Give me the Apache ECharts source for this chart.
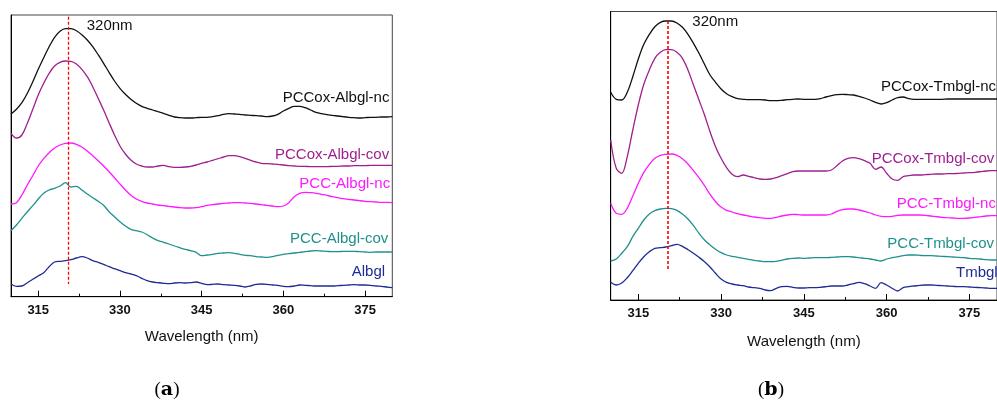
<!DOCTYPE html>
<html>
<head>
<meta charset="utf-8">
<script src="https://cdn.jsdelivr.net/npm/echarts@6/dist/echarts.min.js"></script>
<style>
html,body{margin:0;padding:0;background:#fff;}
#c{width:997px;height:401px;}
</style>
</head>
<body>
<div id="c"></div>
<script>
// wavelength (nm)
const wavelengths = [310,311,312,313,314,315,316,317,318,319,320,321,322,323,324,325,326,327,328,329,330,331,332,333,334,335,336,337,338,339,340,341,342,343,344,345,346,347,348,349,350,351,352,353,354,355,356,357,358,359,360,361,362,363,364,365,366,367,368,369,370,371,372,373,374,375,376,377,378,379,380];
const tickLabels = [315,330,345,360,375];
const minorTicks = [322.5,337.5,352.5,367.5];
const peakLine = [320.5, 320.3];

// Panel (a) — offset spectra, arbitrary units
const albPCCoxNc = [182.7,187.4,194,203.4,215,227.4,239,250,259.4,265.4,268,
 268,266,262,256.7,250,242,233.4,224.4,215.7,208.4,
 202.4,197.4,193.4,190.4,188.4,186.7,185,183.4,181.4,179.7,
 179,178.7,178.7,179,179.4,179.4,180,181,182.4,183,
 182.7,182.4,181.7,181.4,181,180.7,180,180.7,182.4,185.7,
 188.4,190.4,190.4,189,186.7,184.4,183,182,181.4,180.7,
 180,179.4,179,178.7,179,179.4,179.4,179.7,179.7,180];
const albPCCoxCov = [163.4,158.7,161.7,173.4,187.4,201.7,213.4,223.4,230.7,234.4,235.7,
 235.4,232.7,227.4,220,210,198.4,186.7,174,161.7,150.7,
 142.7,136.7,132.7,130.7,129.7,129.7,130.7,131.4,130,129.4,
 129.4,129.7,130.4,131.7,133.4,134.7,136.4,138,139.7,141,
 141,140,138.4,136.4,134.7,133.4,133,132.7,132.4,131.7,
 131,130.7,130.4,130.4,130,130,130,130,130.4,130.4,
 130.7,130.7,131,131,131,131.4,131.4,131.4,131.4,131.4];
const albPCCNc = [92.7,94,101.7,111.7,121,130.7,138,144,148.7,151.7,153.4,
 153.7,152.4,149.7,145.7,141,136,130.7,125,119,112.7,
 106.7,101.4,97.7,95.4,93.7,92.7,91.7,91,90.4,89.7,
 89,88.7,88.7,89,90,91.4,92,92.7,93.4,93.7,
 94,94,93.7,93.4,92.7,92,91.4,90.7,90,90.7,
 94,100,103.4,104.4,104,103.4,102.4,101.4,100,99,
 98,97.4,96.7,96,95.4,95,94.7,94.4,94.4,94];
const albPCCCov = [66,71.7,78.4,85,91,97.7,103.4,106.7,108.4,110.7,114,
 109.7,110.4,106.7,102.7,99,95.4,91.4,85,80,75,
 70.7,67.4,66,64.7,62,58.7,56,54.4,52.7,50.7,
 49,47.4,46,44.4,41,41.7,42.4,43.4,43.7,44,
 43.4,42.4,41.4,41,40,39.7,39.4,40,41.4,42.4,
 43,43.7,44.4,45,45.7,46,45.7,45.4,45,45,
 45.4,45.4,45.4,45,44.7,44.4,44.7,44.7,44.7,44.7];
const albgl = [12.7,10.4,10.7,14,17.4,20.7,24,30,34.7,35.4,36,
 37,38.7,40,38.7,36,34.4,32.4,30,28,26,
 24,22.7,21,18.4,16,14.7,14,13.4,13,13.7,
 14,13.7,14,14.7,13.4,12,12.4,12.7,12,11.7,
 11.4,10.7,9.7,10.7,12.4,12.7,12.4,11.7,11.4,10.4,
 10,10.7,11.7,11.4,11,10.7,10.7,10.7,10.7,11,
 11.4,11.7,12,11.7,11.7,11.4,10.7,10.4,9.7,9];

// Panel (b)
const tmbPCCoxNc = [207.7,200.7,200,207.7,223.3,241,255.7,265.7,273.3,277.7,279,
 279,277,272.7,265.7,256.7,246.7,235.7,225,217.7,211,
 206.3,203.3,201.3,200.7,200.3,200.3,200.3,200,199.3,199.3,
 199.7,200.3,200.7,201,200.7,200.7,200.7,201.3,203,204.3,
 205.3,205.7,205.3,205,203.7,202,200,197.7,196,197.3,
 200,202.3,203,201.3,200.7,200.7,200.7,200.7,200.7,200.7,
 201,201,201,201,201,201,201,201,201,201];
const tmbPCCoxCov = [160,131.7,126.7,143.3,170,195,215.7,230,241.7,247.7,250.3,
 250.3,247.7,241.7,230,215,200,185,168.3,153.3,141.7,
 132.3,125.7,123.3,125,123.7,122.3,121,120.7,121,122.3,
 124.3,126.3,128.3,129,129,129,129,129,129,130,
 134.3,139,141.7,142.3,141.3,139.3,136.7,130.7,133,126.7,
 121,119.7,123.3,124.3,125,125,125.3,125.7,126,126,
 126.3,126.3,126.7,127,127.3,127.7,128.3,129,129.3,129.3];
const tmbPCCNc = [96.7,86.7,85.7,91.7,104,116.7,127.7,135.7,141.7,144.7,145.7,
 146,144.7,141.3,136,129.3,122.3,114.3,105.7,98.3,93,
 89.7,88,86.3,85,84,83,82.3,81.7,81.7,82.7,
 84,85,85.7,85.3,85,85,85,85,85,86,
 88.7,90.3,91,91,90,88.7,87,85,83.7,83.3,
 83.7,84.7,85,85,85,85,84.7,84,83.3,82.7,
 82.3,82,81.7,81.7,82,82.7,83.3,84,84.3,84.3];
const tmbPCCCov = [39,41,46.7,53.3,63.3,71.7,80,86,89.3,91,91.7,
 91.3,89.7,86,81,74.3,66.7,60,55,50.7,47.3,
 45,43.7,42.7,41.7,40.7,39.7,39,38.3,38.3,38.7,
 39.7,41,41.7,42,41.7,42,42.3,42.3,42.3,42.7,
 43,43.3,43.3,43,42.3,41.7,41,40,39,41,
 42.3,43.3,44.3,45,45,44.7,44.3,44.3,44,43.7,
 43.3,43,42.7,42.3,41.7,41.3,41,40.3,40,40];
const tmbgl = [17.7,15,17,22.3,29.3,36.7,43.3,48.3,51.7,52.3,53,
 54.3,55.7,53.7,50.3,46.7,42.7,38.3,33,26.7,21,
 17.7,16,15,14.3,13,12.3,11.7,10,9.3,11.7,
 13.3,13.7,12.7,12,12,12.3,12.3,12.7,13.3,14,
 14,14,15,16.3,17.7,16.3,14,11.7,17.3,15,
 11.7,9,12.3,13.3,14,14.7,15,15,14.7,14.3,
 14,13.7,13.3,13.3,13,12.7,12.3,12,11.7,11.7];

const seriesNamesA = ['PCCox-Albgl-nc','PCCox-Albgl-cov','PCC-Albgl-nc','PCC-Albgl-cov','Albgl'];
const seriesNamesB = ['PCCox-Tmbgl-nc','PCCox-Tmbgl-cov','PCC-Tmbgl-nc','PCC-Tmbgl-cov','Tmbgl'];
const colors = ['#111111','#a01f8e','#ff19ff','#1f918c','#1f2b94'];

const dataA = [albPCCoxNc, albPCCoxCov, albPCCNc, albPCCCov, albgl];
const dataB = [tmbPCCoxNc, tmbPCCoxCov, tmbPCCNc, tmbPCCCov, tmbgl];

const FONT = '"Liberation Sans", Arial, Helvetica, sans-serif';
const pair = arr => wavelengths.map((w, i) => [w, arr[i]]);

function xAxes(grid, gap) {
  return [
    {
      gridIndex: grid, type: 'value', min: 310, max: 380, position: 'bottom',
      axisLine: { show: true, lineStyle: { color: '#000', width: 1 } },
      axisTick: { show: true, inside: true, length: 6, customValues: tickLabels, lineStyle: { color: '#000' } },
      axisLabel: { customValues: tickLabels, fontFamily: FONT, fontWeight: 'bold', fontSize: 13, color: '#111', margin: 7 },
      splitLine: { show: false },
      name: 'Wavelength (nm)', nameLocation: 'middle', nameGap: gap,
      nameTextStyle: { fontFamily: FONT, fontSize: 15, color: '#111' }
    },
    {
      gridIndex: grid, type: 'value', min: 310, max: 380, position: 'bottom',
      axisLine: { show: false },
      axisTick: { show: true, inside: true, length: 3, customValues: minorTicks, lineStyle: { color: '#000' } },
      axisLabel: { show: false },
      splitLine: { show: false }
    }
  ];
}
function yAxis(grid, max) {
  return {
    gridIndex: grid, type: 'value', min: 0, max: max,
    axisLine: { show: true, lineStyle: { color: '#000', width: 1 } },
    axisTick: { show: false }, axisLabel: { show: false }, splitLine: { show: false }
  };
}

const series = [];
[dataA, dataB].forEach((set, g) => {
  const names = g === 0 ? seriesNamesA : seriesNamesB;
  set.forEach((arr, i) => {
    const s = {
      name: names[i], type: 'line', xAxisIndex: g * 2, yAxisIndex: g,
      data: pair(arr), showSymbol: false, smooth: 0.35,
      lineStyle: { color: colors[i], width: 1.3 }, itemStyle: { color: colors[i] },
      z: i === 0 ? 6 : 3
    };
    if (i === 0) {
      const top = g === 0 ? 280 : 279;
      const bot = g === 0 ? 12.7 : 30;
      s.markLine = {
        silent: true, symbol: 'none', label: { show: false }, z: 8,
        lineStyle: { color: '#ff0000', type: [3, 2], width: g === 0 ? 1.3 : 1.6, opacity: 1 },
        emphasis: { disabled: true },
        data: [[{ coord: [peakLine[g], top] }, { coord: [peakLine[g], bot] }]]
      };
    }
    series.push(s);
  });
});

function label(text, x, y, color, align) {
  return { type: 'text', x: x, y: y, z: 10,
    style: { text: text, fill: color, font: '15px ' + FONT, textAlign: align || 'left', textVerticalAlign: 'middle' } };
}

const labelsA = [[282.7, 98.3], [275, 155], [299.3, 184.3], [290, 239.3], [351.7, 271.7]];
const labelsB = [[881, 86.7], [871.7, 159], [896.7, 204], [887.3, 244.3], [956, 273.3]];

const graphics = [];
seriesNamesA.forEach((n, i) => graphics.push(label(n, labelsA[i][0], labelsA[i][1], colors[i])));
seriesNamesB.forEach((n, i) => graphics.push(label(n, labelsB[i][0], labelsB[i][1], colors[i])));
graphics.push(label('320nm', 86.7, 25.7, '#111'));
graphics.push(label('320nm', 692.3, 21.7, '#111'));
['a', 'b'].forEach((t, i) => {
  graphics.push({
    type: 'text', x: i === 0 ? 167 : 771, y: 390, z: 10,
    style: {
      text: '(' + '{b|' + t + '}' + ')', fill: '#000',
      font: '19px "Liberation Serif", "DejaVu Serif", serif',
      textAlign: 'center', textVerticalAlign: 'middle',
      rich: { b: { fontWeight: 'bold', fontSize: 19, fontFamily: '"DejaVu Serif", serif', fill: '#000' } }
    }
  });
});

const chart = echarts.init(document.getElementById('c'), null, { renderer: 'canvas' });
chart.setOption({
  backgroundColor: '#ffffff',
  animation: false,
  grid: [
    { left: 11, top: 15, width: 381.3, height: 281.7, show: true, borderColor: '#444', borderWidth: 1, backgroundColor: 'transparent' },
    { left: 610.7, top: 11.5, width: 391.5, height: 288.5, show: true, borderColor: '#444', borderWidth: 1, backgroundColor: 'transparent' }
  ],
  xAxis: [...xAxes(0, 33), ...xAxes(1, 34)],
  yAxis: [yAxis(0, 281.7), yAxis(1, 288.5)],
  series: series,
  graphic: graphics
});
</script>
</body>
</html>
